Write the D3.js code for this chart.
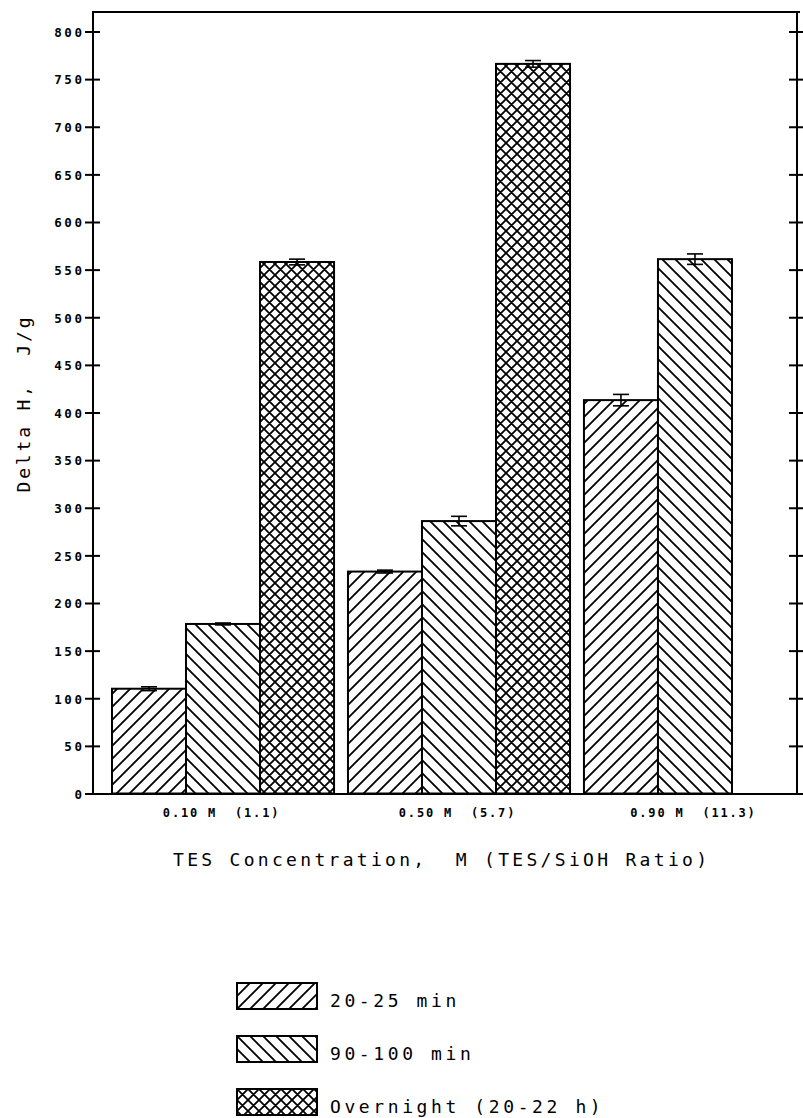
<!DOCTYPE html>
<html><head><meta charset="utf-8">
<script src="https://cdn.jsdelivr.net/npm/d3@7"></script>
<style>
html,body{margin:0;padding:0;background:#fff;}
svg{display:block;}
text{white-space:pre;}
</style></head>
<body>
<svg id="chart" width="803" height="1118"></svg>
<script>
// ---- data ----
const categories = ["0.10 M  (1.1)", "0.50 M  (5.7)", "0.90 M  (11.3)"];
const series = ["20-25 min", "90-100 min", "Overnight (20-22 h)"];
const values20 = [110, 233, 413];
const values90 = [178, 286, 561];
const valuesOvernight = [558, 766, null];
const err20 = [2, 1.5, 6];
const err90 = [1, 5, 5.5];
const errOvernight = [3, 3.5, null];
const yTicks = [0, 50, 100, 150, 200, 250, 300, 350, 400, 450, 500, 550, 600, 650, 700, 750, 800];
const yTitle = "Delta H,  J/g";
const xTitle = "TES Concentration,  M (TES/SiOH Ratio)";

const seriesValues = [values20, values90, valuesOvernight];
const seriesErr = [err20, err90, errOvernight];
const patternIds = ["hatchFwd", "hatchBack", "hatchCross"];

const svg = d3.select("#chart");
const FONT = "'DejaVu Sans Mono', 'Liberation Mono', monospace";

// patterns
const defs = svg.append("defs");
function pat(id, size, d) {
  const p = defs.append("pattern").attr("id", id).attr("patternUnits", "userSpaceOnUse")
    .attr("width", size).attr("height", size);
  p.append("rect").attr("width", size).attr("height", size).attr("fill", "#fff");
  p.append("path").attr("d", d).attr("stroke", "#000").attr("stroke-width", 1.8).attr("fill", "none");
}
const s1 = 13, s2 = 13, s3 = 11;
pat("hatchFwd", s1, `M0,${s1} L${s1},0 M-2,2 L2,-2 M${s1-2},${s1+2} L${s1+2},${s1-2}`);
pat("hatchBack", s2, `M0,0 L${s2},${s2} M-2,${s2-2} L2,${s2+2} M${s2-2},-2 L${s2+2},2`);
pat("hatchCross", s3, `M0,${s3} L${s3},0 M-2,2 L2,-2 M${s3-2},${s3+2} L${s3+2},${s3-2} M0,0 L${s3},${s3} M-2,${s3-2} L2,${s3+2} M${s3-2},-2 L${s3+2},2`);

defs.append("clipPath").attr("id", "plotClip").append("rect")
  .attr("x", 93).attr("y", 12).attr("width", 704).attr("height", 782);

// scales
const y = d3.scaleLinear().domain([0, 800]).range([793.5, 31.5]);
const x0 = d3.scaleBand().domain(categories).range([93, 825]).paddingInner(0.059).paddingOuter(0.0805);
const x1 = d3.scaleBand().domain(series).range([0, x0.bandwidth()]);

// bars
const plot = svg.append("g").attr("clip-path", "url(#plotClip)");
const rows = [];
categories.forEach((c, i) => {
  series.forEach((s, j) => {
    const v = seriesValues[j][i];
    if (v != null) rows.push({c, s, j, v, e: seriesErr[j][i]});
  });
});
plot.selectAll("rect.bar").data(rows).join("rect").attr("class", "bar")
  .attr("x", d => x0(d.c) + x1(d.s))
  .attr("y", d => y(d.v))
  .attr("width", x1.bandwidth())
  .attr("height", d => y(0) - y(d.v))
  .attr("fill", d => `url(#${patternIds[d.j]})`)
  .attr("stroke", "#000").attr("stroke-width", 2);

// error bars
const eb = plot.selectAll("g.err").data(rows.filter(d => d.e != null)).join("g").attr("class", "err")
  .attr("transform", d => `translate(${x0(d.c) + x1(d.s) + x1.bandwidth()/2},0)`);
eb.append("line").attr("x1", 0).attr("x2", 0).attr("y1", d => y(d.v + d.e)).attr("y2", d => y(d.v - d.e))
  .attr("stroke", "#000").attr("stroke-width", 1.6);
eb.append("line").attr("x1", -8).attr("x2", 8).attr("y1", d => y(d.v + d.e)).attr("y2", d => y(d.v + d.e))
  .attr("stroke", "#000").attr("stroke-width", 1.6);
eb.append("line").attr("x1", -8).attr("x2", 8).attr("y1", d => y(d.v - d.e)).attr("y2", d => y(d.v - d.e))
  .attr("stroke", "#000").attr("stroke-width", 1.6);

// frame
const frame = svg.append("g").attr("stroke", "#000").attr("stroke-width", 2).attr("fill", "none");
frame.append("line").attr("x1", 93).attr("x2", 93).attr("y1", 12).attr("y2", 794.5);
frame.append("line").attr("x1", 92).attr("x2", 800).attr("y1", 12).attr("y2", 12);
frame.append("line").attr("x1", 797).attr("x2", 797).attr("y1", 12).attr("y2", 794.5);
frame.append("line").attr("x1", 92).attr("x2", 803).attr("y1", 794).attr("y2", 794);

// left axis
const yAxisL = svg.append("g").attr("transform", "translate(93,0)")
  .call(d3.axisLeft(y).tickValues(yTicks).tickSize(8).tickSizeOuter(0).tickPadding(4));
yAxisL.select(".domain").remove();
yAxisL.selectAll(".tick line").attr("x1", 7).attr("x2", -8).attr("stroke", "#000").attr("stroke-width", 2);
yAxisL.selectAll(".tick text")
  .attr("x", -11 + 2.6)
  .attr("dy", "0.38em")
  .style("font-family", FONT).style("font-size", "12.5px").style("font-weight", "bold")
  .style("letter-spacing", "2.6px").attr("fill", "#000");

// right axis
const yAxisR = svg.append("g").attr("transform", "translate(797,0)")
  .call(d3.axisRight(y).tickValues(yTicks).tickSize(6).tickSizeOuter(0).tickFormat(""));
yAxisR.select(".domain").remove();
yAxisR.selectAll(".tick line").attr("x1", -8).attr("x2", 6).attr("stroke", "#000").attr("stroke-width", 2);

// x category labels
const xAxis = svg.append("g").attr("transform", "translate(0,794)")
  .call(d3.axisBottom(x0).tickSize(0).tickPadding(0));
xAxis.select(".domain").remove();
xAxis.selectAll(".tick")
  .attr("transform", d => `translate(${x0(d) + x0.bandwidth()/2},0)`);
xAxis.selectAll(".tick text")
  .attr("y", 23).attr("dy", 0)
  .style("font-family", FONT).style("font-size", "12px").style("font-weight", "bold")
  .style("letter-spacing", "1.8px").attr("fill", "#000")
  .attr("dx", -1.5);

// axis titles
svg.append("text").attr("x", 440).attr("y", 866).attr("text-anchor", "middle")
  .attr("textLength", 534).attr("lengthAdjust", "spacing")
  .style("font-family", FONT).style("font-size", "18px").attr("fill", "#000")
  .text(xTitle);
svg.append("text").attr("transform", "translate(30,405) rotate(-90)").attr("text-anchor", "middle")
  .attr("textLength", 175).attr("lengthAdjust", "spacing")
  .style("font-family", FONT).style("font-size", "18px").attr("fill", "#000")
  .text(yTitle);

// legend
const legend = svg.append("g");
const lg = legend.selectAll("g").data(series).join("g")
  .attr("transform", (d, i) => `translate(237,${983 + i * 53})`);
lg.append("rect").attr("width", 80).attr("height", 26)
  .attr("fill", (d, i) => `url(#${patternIds[i]})`)
  .attr("stroke", "#000").attr("stroke-width", 2);
lg.append("text").attr("x", 93).attr("y", 23.5)
  .style("font-family", FONT).style("font-size", "18px").style("letter-spacing", "3.6px").attr("fill", "#000")
  .text(d => d);
</script>
</body></html>
